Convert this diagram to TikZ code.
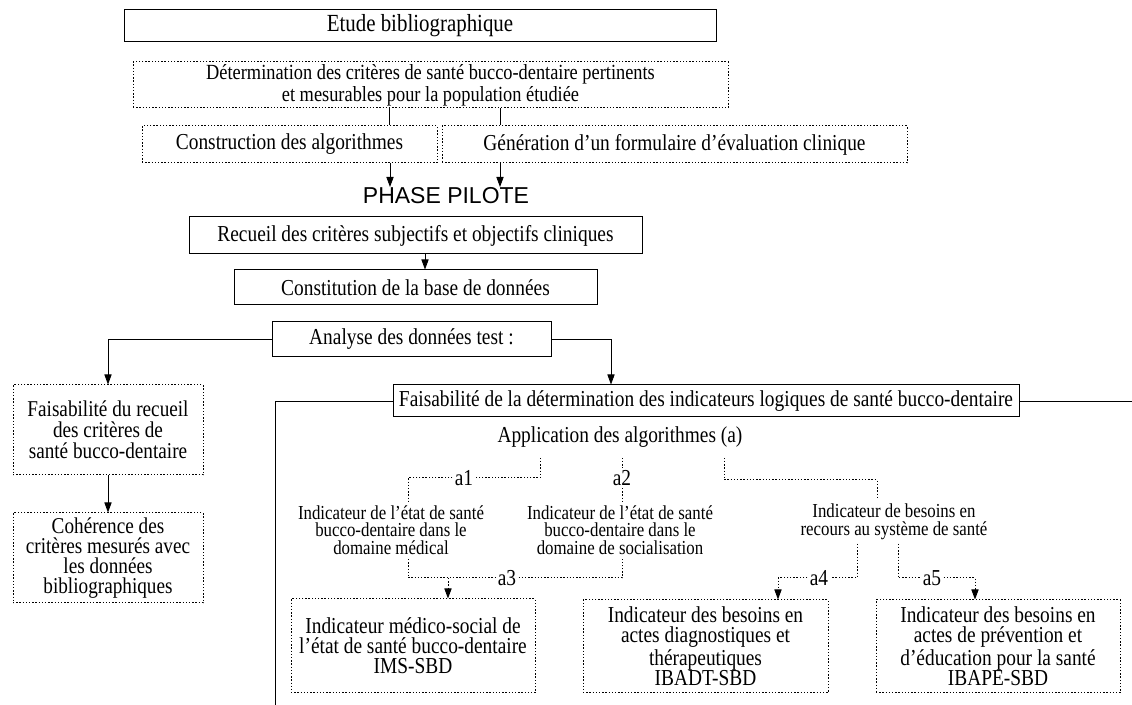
\documentclass[tikz,border=0pt]{standalone}
\usepackage{fontspec}
\setmainfont[FakeStretch=0.85]{Liberation Serif}
\newfontfamily\phasefont{Liberation Sans}
\usetikzlibrary{arrows.meta}

\begin{document}
\begin{tikzpicture}[x=0.5pt, y=-0.5pt,
  solidbox/.style={draw, line width=0.5pt, inner sep=0pt, align=center, font=\fontsize{11.4}{10}\selectfont},
  dotbox/.style={draw, line width=0.5pt, dash pattern=on 0.7pt off 0.9pt, inner sep=0pt, align=center, font=\fontsize{11.4}{10}\selectfont},
  lbl/.style={align=center, inner sep=2pt, font=\fontsize{9.9}{8.8}\selectfont},
  alink/.style={inner sep=1pt, font=\fontsize{11.4}{10}\selectfont},
  dots/.style={line width=0.5pt, dash pattern=on 0.7pt off 0.9pt},
  arr/.style={-{Triangle[length=5pt,width=3.6pt]}}]
  \useasboundingbox (0,0) rectangle (1132,705);

  % top part
  \node[solidbox, minimum width=296pt, minimum height=16pt, font=\fontsize{12.3}{12}\selectfont] (etude) at (420,26) {Etude bibliographique};
  \node[dotbox, minimum width=297.5pt, minimum height=23pt, font=\fontsize{10.8}{9}\selectfont] (determ) at (430.5,85) {Détermination des critères de santé bucco-dentaire pertinents\\et mesurables pour la population étudiée};
  \node[dotbox, minimum width=147.5pt, minimum height=18.5pt] (constr) at (289.5,144.5) {Construction des algorithmes};
  \node[dotbox, minimum width=232.5pt, minimum height=18.5pt] (gener) at (674.5,144.5) {Génération d’un formulaire d’évaluation clinique};
  \node[anchor=north, inner sep=0pt, font=\phasefont\fontsize{11.5}{12}\selectfont] (phase) at (446,187) {PHASE PILOTE};
  \node[solidbox, minimum width=226.5pt, minimum height=18.5pt] (recueil) at (415.5,235.5) {Recueil des critères subjectifs et objectifs cliniques};
  \node[solidbox, minimum width=181.5pt, minimum height=17.5pt] (constit) at (415.5,287.5) {Constitution de la base de données};
  \node[solidbox, minimum width=139.5pt, minimum height=17.5pt] (analyse) at (411.5,339.5) {Analyse des données test :};

  \draw (determ.south -| 389,0) -- (constr.north -| 389,0);
  \draw (determ.south -| 500,0) -- (gener.north -| 500,0);
  \draw[arr] (constr.south -| 390,0) -- (phase.north -| 390,0);
  \draw[arr] (gener.south -| 500,0) -- (phase.north -| 500,0);
  \draw[arr] (recueil.south -| 425,0) -- (constit.north -| 425,0);

  % left column
  \node[dotbox, minimum width=95pt, minimum height=45pt, font=\fontsize{11.3}{10.6}\selectfont] (frecueil) at (108,430) {Faisabilité du recueil\\des critères de\\santé bucco-dentaire};
  \node[dotbox, minimum width=95pt, minimum height=45pt, font=\fontsize{11.3}{10}\selectfont] (coher) at (108,558) {Cohérence des\\critères mesurés avec\\les données\\bibliographiques};
  \draw[arr] (analyse.west) -| (frecueil.north);
  \draw[arr] (frecueil) -- (coher);

  % right part
  \node[solidbox, minimum width=313pt, minimum height=16pt] (fdet) at (706,401) {Faisabilité de la détermination des indicateurs logiques de santé bucco-dentaire};
  \coordinate (bottomleft) at (275,705);
  \coordinate (rightedge) at (1132,401);
  \draw[arr] (analyse.east) -| (fdet.north -| 611,0);
  \draw (fdet.west) -| (bottomleft);
  \draw (fdet.east) -- (rightedge);

  \node[inner sep=5pt, font=\fontsize{11.4}{10}\selectfont] (app) at (620,437) {Application des algorithmes (a)};
  \node[alink] (a1) at (464,478) {a1};
  \node[alink] (a2) at (622,478) {a2};
  \node[alink] (a3) at (507,578) {a3};
  \node[alink] (a4) at (819,578) {a4};
  \node[alink] (a5) at (932,578) {a5};
  \node[lbl] (lab1) at (391,530) {Indicateur de l’état de santé\\bucco-dentaire dans le\\domaine médical};
  \node[lbl] (lab2) at (620,530) {Indicateur de l’état de santé\\bucco-dentaire dans le\\domaine de socialisation};
  \node[lbl] (lab3) at (894,521.5) {Indicateur de besoins en\\recours au système de santé};

  \node[dotbox, minimum width=122pt, minimum height=47pt] (ims) at (413,646) {Indicateur médico-social de\\l’état de santé bucco-dentaire\\IMS-SBD};
  \node[dotbox, minimum width=122.5pt, minimum height=46.5pt] (ibadt) at (705.5,646.5) {Indicateur des besoins en\\actes diagnostiques et\\thérapeutiques\\IBADT-SBD};
  \node[dotbox, minimum width=122pt, minimum height=46.5pt] (ibape) at (998,646.5) {Indicateur des besoins en\\actes de prévention et\\d’éducation pour la santé\\IBAPE-SBD};

  \coordinate (k3) at (877,480);
  \coordinate (j3) at (448,578);
  \draw[dots] (app.south -| 540,0) |- (a1.east);
  \draw[dots] (a1.west) -| (lab1.north -| 408,0);
  \draw[dots] (app.south -| a2) -- (a2.north);
  \draw[dots] (a2.south) -- (lab2.north -| a2);
  \draw[dots] (app.south -| 724,0) |- (k3) -- (lab3.north -| k3);
  \draw[dots] (lab1.south -| 408,0) |- (a3.west);
  \draw[dots] (a3.east) -| (lab2.south -| a2);
  \draw[dots, arr] (j3) -- (ims.north -| j3);
  \draw[dots] (lab3.south -| 857,0) |- (a4.east);
  \draw[dots, arr] (a4.west) -| (ibadt.north -| 778,0);
  \draw[dots] (lab3.south -| 898,0) |- (a5.west);
  \draw[dots, arr] (a5.east) -| (ibape.north -| 975,0);
\end{tikzpicture}
\end{document}
